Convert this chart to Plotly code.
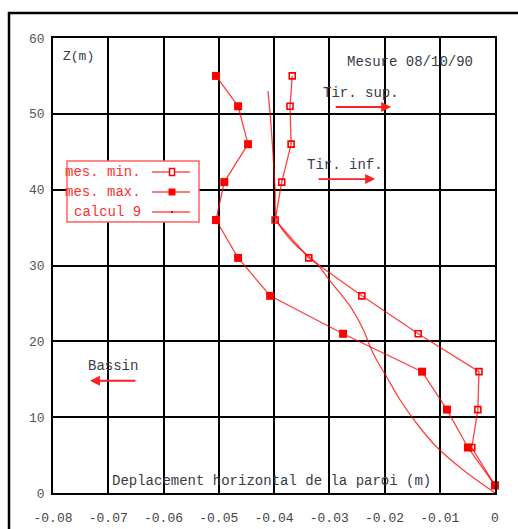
import plotly.graph_objects as go

# Horizontal wall displacement (m) versus depth coordinate Z (m)
z_mes = [55, 51, 46, 41, 36, 31, 26, 21, 16, 11, 6, 1]
x_min = [-0.0367, -0.0371, -0.0369, -0.0386, -0.0398, -0.0337, -0.0241, -0.0139,
         -0.0029, -0.0031, -0.0042, 0.0]
x_max = [-0.0505, -0.0465, -0.0447, -0.0490, -0.0505, -0.0465, -0.0407, -0.0275,
         -0.0132, -0.0087, -0.0049, 0.0]

z_calc = [53, 50, 45, 40, 36, 33, 30.3, 28, 24.6, 21.5, 19.3, 17.5, 15.3, 12.3,
          9.2, 6.1, 3, 0]
x_calc = [-0.0411, -0.0407, -0.0402, -0.0398, -0.0395, -0.0365, -0.0323, -0.0299,
          -0.0262, -0.0238, -0.0226, -0.0214, -0.0196, -0.0172, -0.0142, -0.0106,
          -0.0057, 0.0]

x_ticks = [-0.08, -0.07, -0.06, -0.05, -0.04, -0.03, -0.02, -0.01, 0]
x_tick_text = ["-0.08", "-0.07", "-0.06", "-0.05", "-0.04", "-0.03", "-0.02", "-0.01", "0"]
y_ticks = [0, 10, 20, 30, 40, 50, 60]

FONT = "Liberation Mono, Courier New, monospace"
RED = "#ff0000"
LINE_RED = "rgba(255,0,0,0.75)"
TEXT = "#3a3a48"

W, H = 518, 529
L, R, T, B = 53, 23, 38, 36
PW, PH = W - L - R, H - T - B


def px(xp):
    return (xp - L) / PW


def py(yp):
    return (H - B - yp) / PH


fig = go.Figure()

fig.add_trace(go.Scatter(
    x=x_calc, y=z_calc, mode="lines", name="calcul 9",
    line=dict(color=LINE_RED, width=1.3, shape="spline", smoothing=0.8),
    cliponaxis=False, showlegend=False))
fig.add_trace(go.Scatter(
    x=x_min, y=z_mes, mode="lines+markers", name="mes. min.",
    line=dict(color=LINE_RED, width=1.3),
    marker=dict(symbol="square-open", size=6, color=RED, line=dict(width=1.6, color=RED)),
    cliponaxis=False, showlegend=False))
fig.add_trace(go.Scatter(
    x=x_max, y=z_mes, mode="lines+markers", name="mes. max.",
    line=dict(color=LINE_RED, width=1.3),
    marker=dict(symbol="square", size=8, color=RED, line=dict(width=0)),
    cliponaxis=False, showlegend=False))

shapes = []
# outer frame
shapes.append(dict(type="rect", xref="paper", yref="paper",
                   x0=px(9), x1=px(560), y0=py(560), y1=py(13),
                   line=dict(color="black", width=2.5), layer="below"))

# legend box
shapes.append(dict(type="rect", xref="paper", yref="paper",
                   x0=px(67), x1=px(199), y0=py(222), y1=py(161),
                   line=dict(color="#ff6060", width=1.5), fillcolor="white", layer="above"))
rows = [172, 192, 212]
for yy in rows:
    shapes.append(dict(type="line", xref="paper", yref="paper",
                       x0=px(152), x1=px(190), y0=py(yy), y1=py(yy),
                       line=dict(color="#ff5050", width=1.3), layer="above"))
# legend marker samples
shapes.append(dict(type="rect", xref="paper", yref="paper",
                   x0=px(169.5), x1=px(174.5), y0=py(175.5), y1=py(168.5),
                   line=dict(color=RED, width=1.5), fillcolor="white", layer="above"))
shapes.append(dict(type="rect", xref="paper", yref="paper",
                   x0=px(168.5), x1=px(175.5), y0=py(195.5), y1=py(188.5),
                   line=dict(color=RED, width=0), fillcolor=RED, layer="above"))
shapes.append(dict(type="rect", xref="paper", yref="paper",
                   x0=px(171), x1=px(173), y0=py(213), y1=py(211),
                   line=dict(color=RED, width=0), fillcolor=RED, layer="above"))

annotations = []
for label, yy in zip(["mes. min.", "mes. max.", "calcul 9"], rows):
    annotations.append(dict(xref="paper", yref="paper", x=px(143), y=py(yy),
                            text=label, showarrow=False, xanchor="right", yanchor="middle",
                            font=dict(family=FONT, size=14, color="#ff3030")))


def txt(x, y, s, size=14):
    annotations.append(dict(x=x, y=y, xref="x", yref="y", text=s, showarrow=False,
                            xanchor="center", yanchor="middle",
                            font=dict(family=FONT, size=size, color=TEXT)))


txt(-0.0753, 57.6, "Z(m)", 13)
txt(-0.0154, 56.8, "Mesure 08/10/90")
txt(-0.0243, 52.75, "Tir. sup.")
txt(-0.0272, 43.25, "Tir. inf.")
txt(-0.0691, 16.75, "Bassin")
txt(-0.0404, 1.6, "Deplacement horizontal de la paroi (m)")


def arrow(x0, x1, y):
    annotations.append(dict(x=x1, y=y, ax=x0, ay=y, xref="x", yref="y", axref="x", ayref="y",
                            text="", showarrow=True, arrowhead=2, arrowsize=1.1,
                            arrowwidth=1.8, arrowcolor="#ff2020"))


arrow(-0.0291, -0.0188, 50.9)
arrow(-0.0322, -0.0217, 41.4)
arrow(-0.0648, -0.0733, 14.8)

fig.update_layout(
    width=W, height=H,
    margin=dict(l=L, r=R, t=T, b=B, pad=0, autoexpand=False),
    paper_bgcolor="white", plot_bgcolor="white",
    shapes=shapes, annotations=annotations,
    showlegend=False,
    font=dict(family=FONT, size=13, color="#444"),
)
fig.update_xaxes(range=[-0.08, 0], tickvals=x_ticks, ticktext=x_tick_text,
                 showgrid=True, gridcolor="black", gridwidth=1.5,
                 showline=True, linecolor="black", linewidth=1.5, mirror=True,
                 zeroline=False, ticks="", ticklabelstandoff=12, automargin=False,
                 tickfont=dict(family=FONT, size=13, color="#444"))
fig.update_yaxes(range=[0, 60], tickvals=y_ticks,
                 showgrid=True, gridcolor="black", gridwidth=1.5,
                 showline=True, linecolor="black", linewidth=1.5, mirror=True,
                 zeroline=False, ticks="", ticklabelstandoff=4, automargin=False,
                 tickfont=dict(family=FONT, size=13, color="#555"))

fig.write_html("out.html")
